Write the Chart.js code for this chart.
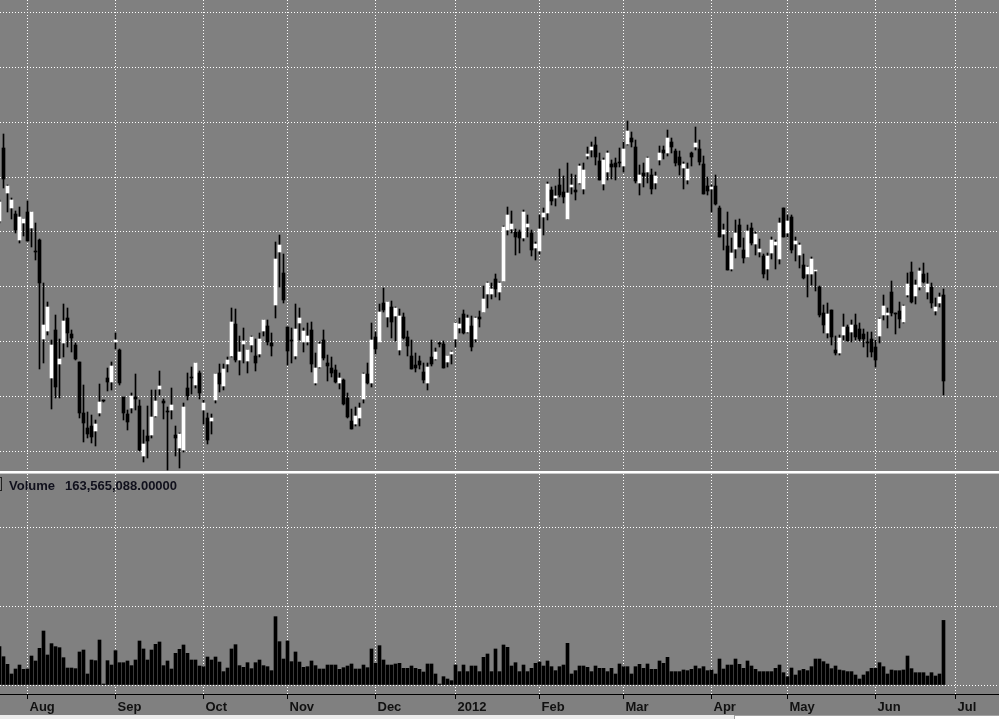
<!DOCTYPE html>
<html>
<head>
<meta charset="utf-8">
<script src="https://cdn.jsdelivr.net/npm/chart.js@4/dist/chart.umd.min.js"></script>
<style>
  html, body { margin: 0; padding: 0; }
  body { width: 999px; height: 719px; overflow: hidden; background: #808080; position: relative;
         font-family: "Liberation Sans", Arial, sans-serif; }
  canvas { position: absolute; left: 0; }
  #priceChart { top: 0; }
  #volumeChart { top: 474px; }
  .sep { position: absolute; left: 0; width: 999px; top: 471px; height: 2px; background: #ffffff; }
  .sep2 { position: absolute; left: 0; width: 999px; top: 473px; height: 1px; background: #c8c8c8; }
  .vol-label { position: absolute; top: 478px; font-size: 13px; font-weight: bold; line-height: 15px; color: #10101c; white-space: nowrap; }
  .vol-box { position: absolute; left: -8px; top: 477px; width: 8px; height: 12px; border: 1px solid #202020; }
  .strip { position: absolute; left: 0; top: 715px; width: 999px; height: 4px; background: #ececec; }
  .strip-box { position: absolute; left: 734px; top: 715px; width: 265px; height: 4px; background: #ffffff;
               border-left: 1px solid #a0a0a0; border-top: 1px solid #a0a0a0; box-sizing: border-box; }
</style>
</head>
<body>
<canvas id="priceChart" width="999" height="471"></canvas>
<div class="sep"></div>
<div class="sep2"></div>
<canvas id="volumeChart" width="999" height="241"></canvas>
<div class="vol-box"></div>
<div class="vol-label" style="left:9px">Volume</div>
<div class="vol-label" id="volValue" style="left:65px"></div>
<div class="strip"></div>
<div class="strip-box"></div>

<script>
// Daily bars, Jul 2011 - Jun 2012 (price in chart units, volume in millions)
const opens = [
  250,323,278,263,257,231,248,259,243,219, 231,132,140,93,141,107,128,153,137,126,
  109,58,43,45,40,58,70,93,89,129, 121,74,57,63,74,65,15,35,36,55,
  82,70,59,61,36,23,21,83,93,86, 98,61,53,50,71,98,85,107,115,147,
  111,127,110,126,115,117,140,145,128,166, 219,198,144,130,115,148,129,129,141,88,
  104,131,108,103,101,88,91,73,50,47, 53,72,97,88,134,129,168,154,164,155,
  121,154,134,115,106,110,99,88,114,112, 127,127,109,117,132,143,157,139,145,132,
  154,159,177,177,192,179,190,241,242,239, 239,233,244,238,223,220,254,258,281,273,
  286,279,252,284,281,288,282,315,321,326, 310,287,299,307,308,308,305,327,333,324,
  288,298,299,296,288,311,321,318,329,320, 314,303,291,318,324,322,307,285,282,285,
  263,237,225,202,222,246,221,214,243,227, 219,215,202,218,226,212,263,238,254,227,
  216,206,197,197,200,184,158,138,161,121, 118,136,144,139,146,142,137,129,132,124,
  135,156,156,179,157,160,149,176,199,175, 184,197,179,184,160,168,176
];
const highs = [
  271,337,286,273,260,264,252,270,259,248, 232,188,169,131,156,132,167,163,141,128,
  109,86,59,56,51,87,71,103,109,138, 122,74,61,78,97,71,41,65,81,81,
  100,72,64,83,45,38,68,98,104,108, 100,71,58,57,97,107,107,114,163,162,
  135,143,121,135,132,138,151,151,138,229, 236,217,144,143,167,163,143,148,149,118,
  129,141,116,114,106,98,92,78,62,64, 68,98,108,148,139,167,183,169,170,164,
  162,158,140,131,118,115,108,108,131,123, 129,130,115,120,149,153,161,156,155,154,
  160,185,189,188,197,189,245,264,260,242, 241,261,256,241,229,256,263,289,284,285,
  302,295,308,297,296,307,308,324,329,334, 318,313,320,311,313,323,329,350,339,331,
  306,308,314,302,299,325,325,341,333,322, 320,309,308,319,344,331,315,294,286,296,
  265,247,259,233,251,252,233,246,248,239, 232,217,218,234,231,253,263,256,256,234,
  228,217,205,214,201,185,166,168,161,135, 136,157,146,151,157,148,142,139,139,131,
  153,176,163,190,158,169,166,198,209,191, 203,208,198,188,173,178,182
];
const lows = [
  248,283,259,252,238,228,235,230,224,211, 102,108,136,62,73,73,114,124,119,111,
  53,29,33,28,25,55,69,80,81,122, 86,51,41,58,61,20,9,13,33,54,
  76,52,1,52,15,3,19,71,77,83, 72,47,27,37,68,79,81,99,114,109,
  96,108,98,119,100,114,135,126,115,153, 184,168,106,108,112,131,119,126,99,86,
  103,111,90,94,88,82,66,53,42,45, 45,68,87,84,117,129,159,144,133,130,
  116,132,115,102,99,102,88,81,105,111, 124,103,104,107,124,138,137,138,120,129,
  144,159,163,172,174,171,190,236,238,216, 218,230,234,215,211,217,236,251,266,265,
  274,268,252,277,271,287,277,312,314,306, 291,281,291,292,291,304,299,326,324,288,
  276,284,288,277,282,306,312,315,318,305, 296,282,287,305,321,306,277,276,259,266,
  234,221,201,200,213,224,208,214,226,216, 214,193,191,212,202,207,234,234,218,210,
  203,192,174,186,180,154,138,133,126,116, 116,131,130,129,131,130,124,114,114,104,
  128,151,143,155,137,143,148,174,168,167, 181,188,172,163,156,164,76
];
const closes = [
  269,292,285,271,241,254,252,230,259,219, 188,146,164,126,84,112,150,138,133,112,
  58,48,37,34,47,69,70,89,105,131, 88,58,49,75,72,21,27,30,54,70,
  85,68,59,66,33,37,64,75,93,108, 78,68,31,53,97,87,102,111,149,111,
  119,130,121,134,108,132,151,129,125,212, 226,171,120,130,142,153,140,135,107,103,
  127,113,105,98,89,93,67,54,42,55, 63,97,88,131,122,159,161,169,149,163,
  155,133,125,102,103,106,91,104,107,119, 127,103,115,119,148,147,138,153,124,153,
  152,172,188,182,182,188,244,256,247,234, 233,259,247,221,227,242,258,287,270,275,
  276,274,278,286,279,305,301,317,324,314, 291,311,318,304,304,308,322,340,329,290,
  296,295,313,282,295,318,318,333,324,308, 306,307,302,314,328,309,277,280,284,267,
  234,241,201,218,238,224,213,240,228,237, 222,197,215,231,229,248,234,250,221,230,
  226,193,204,212,201,156,146,157,134,118, 133,144,130,146,134,132,132,128,119,111,
  152,165,158,158,157,152,165,187,169,186, 200,189,187,168,164,174,90
];
const volumes = [
  97.1,71.7,52.3,27.9,40.5,50.6,39.7,40.5,73.4,60.8, 92.8,136.7,76.0,104.7,97.1,94.5,69.2,43.0,43.0,41.4,
  83.6,88.6,27.9,63.3,61.6,113.9,2.5,61.6,50.6,86.9, 56.5,56.5,60.8,49.0,63.3,111.4,91.2,63.3,88.6,103.0,
  108.9,49.0,60.8,40.5,80.2,90.3,101.3,80.2,63.3,63.3, 48.1,46.4,70.9,63.3,70.9,58.2,33.8,43.0,91.2,102.1,
  49.0,44.7,56.5,41.4,56.5,63.3,49.0,46.4,36.3,173.0, 109.7,65.8,111.4,59.1,83.6,58.2,44.7,46.4,60.8,49.0,
  40.5,40.5,50.6,50.6,50.6,39.7,43.9,48.1,53.2,40.5, 40.5,50.6,43.9,91.2,54.9,99.6,63.3,50.6,50.6,53.2,
  54.9,42.2,42.2,48.1,42.2,39.7,32.9,53.2,53.2,27.9, 2.5,21.1,15.2,11.0,50.6,33.8,50.6,33.8,48.1,48.1,
  33.8,70.0,78.5,33.8,91.2,33.8,101.3,95.4,48.1,56.5, 33.8,50.6,33.8,42.2,54.9,58.2,48.1,60.8,46.4,36.3,
  46.4,50.6,105.5,27.9,36.3,48.1,48.1,44.7,33.8,48.1, 42.2,42.2,33.8,42.2,27.9,53.2,46.4,46.4,27.9,46.4,
  52.3,42.2,53.2,39.7,39.7,60.8,54.9,70.0,33.8,33.8, 33.8,38.0,36.3,39.7,48.1,41.4,46.4,36.3,38.0,27.9,
  65.8,40.5,50.6,50.6,65.8,52.3,42.2,60.8,48.1,39.7, 33.8,33.8,33.8,33.8,42.2,50.6,31.2,21.1,43.0,25.3,
  36.3,39.7,36.3,46.4,65.8,65.8,59.1,53.2,41.4,48.1, 38.0,36.3,33.8,33.8,25.3,15.2,25.3,33.8,42.2,42.2,
  56.5,46.4,27.9,38.0,36.3,36.3,38.0,73.4,41.4,31.2, 31.2,31.2,22.8,31.2,22.8,27.9,163.565088
];

// first bar of each month (bar index) and its label
const monthTicks = [7, 29, 51, 72, 94, 114, 135, 156, 178, 197, 219, 239];
const monthLabels = ['Aug', 'Sep', 'Oct', 'Nov', 'Dec', '2012', 'Feb', 'Mar', 'Apr', 'May', 'Jun', 'Jul'];
const priceGrid = [20, 74.8, 129.6, 184.4, 239.2, 294, 348.8, 403.6, 458.4];
const volumeGrid = [0, 200, 400];

const DOT = [1, 2];

function xAxis(showLabels) {
  return {
    type: 'linear',
    min: 0.125,
    max: 249.875,
    offset: false,
    bounds: 'data',
    afterBuildTicks: scale => { scale.ticks = monthTicks.map(v => ({ value: v })); },
    afterFit: scale => { scale.height = showLabels ? 21 : 0; },
    grid: {
      offset: false,
      color: '#ffffff',
      lineWidth: 1,
      drawTicks: showLabels,
      tickLength: 5,
      tickColor: '#000000',
      tickWidth: 1
    },
    border: { display: showLabels, color: '#000000', width: 1, dash: DOT },
    ticks: {
      display: showLabels,
      autoSkip: false,
      maxRotation: 0,
      align: 'start',
      labelOffset: 2,
      padding: 1,
      color: '#111111',
      font: { family: 'Liberation Sans', size: 13, weight: 'bold' },
      callback: (value) => monthLabels[monthTicks.indexOf(value)]
    }
  };
}

function yAxis(min, max, grid) {
  return {
    min: min,
    max: max,
    bounds: 'data',
    afterBuildTicks: scale => { scale.ticks = grid.map(v => ({ value: v })); },
    afterFit: scale => { scale.width = 0; },
    grid: { color: '#ffffff', lineWidth: 1, drawTicks: false },
    border: { display: false, dash: DOT },
    ticks: { display: false }
  };
}

const common = {
  responsive: false,
  animation: false,
  events: [],
  layout: { padding: 0 },
  plugins: { legend: { display: false }, tooltip: { enabled: false } }
};

// Price panel: bodies drawn over wicks
const bodies = opens.map((o, i) => ({ x: i, y: [o, closes[i]] }));
const wicks = lows.map((l, i) => ({ x: i, y: [l, highs[i]] }));
const bodyColors = opens.map((o, i) => closes[i] > o ? '#ffffff' : '#000000');

new Chart(document.getElementById('priceChart'), {
  type: 'bar',
  data: {
    datasets: [
      { data: bodies, backgroundColor: bodyColors, barThickness: 3, grouped: false, minBarLength: 1, borderWidth: 0 },
      { data: wicks, backgroundColor: '#000000', barThickness: 1, grouped: false, minBarLength: 1, borderWidth: 0 }
    ]
  },
  options: Object.assign({}, common, {
    scales: { x: xAxis(false), y: yAxis(0, 471, priceGrid) }
  })
});

// Volume panel (millions); 200M per 79px, zero 9px above the axis line
new Chart(document.getElementById('volumeChart'), {
  type: 'bar',
  data: {
    datasets: [
      { data: volumes.map((v, i) => ({ x: i, y: v })), backgroundColor: '#000000', barThickness: 3, borderWidth: 0 }
    ]
  },
  options: Object.assign({}, common, {
    scales: { x: xAxis(true), y: yAxis(-22.78, 534.18, volumeGrid) }
  })
});

const lastVol = Math.round(volumes[volumes.length - 1] * 1e6);
document.getElementById('volValue').textContent =
  lastVol.toLocaleString('en-US', { minimumFractionDigits: 5, maximumFractionDigits: 5 });
</script>
</body>
</html>
